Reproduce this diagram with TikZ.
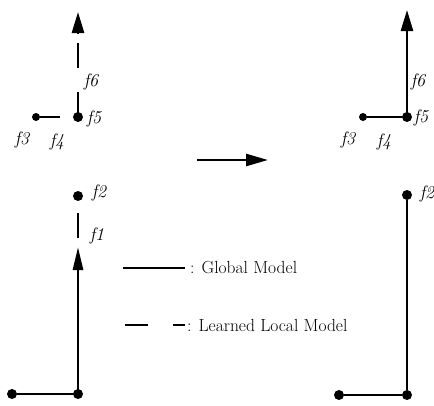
\documentclass[tikz,border=0pt]{standalone}
\usetikzlibrary{arrows.meta}
\begin{document}
\begin{tikzpicture}[x=1pt,y=-1pt,
 dot/.style={circle,fill=black,inner sep=0pt,minimum size=10pt},
 sdot/.style={circle,fill=black,inner sep=0pt,minimum size=8pt},
 seg/.style={line width=2.6pt},
 leg/.style={line width=2.2pt},
 lbl/.style={font=\fontsize{18}{20}\selectfont\itshape,inner sep=0pt},
 ltxt/.style={font=\fontsize{17.5}{20}\selectfont,inner sep=0pt,anchor=west},
 head/.style={-{Triangle[length=21pt,width=12pt]}}
]
\useasboundingbox (0,0) rectangle (434,405);
% ---------- left figure ----------
\node[dot] (L5) at (78,117) {};
\node[sdot] (L3) at (36,117) {};
\coordinate (L4e) at (60,117);
\draw[seg] (L3) -- (L4e);
\coordinate (L6a) at (78,92);
\coordinate (L6b) at (78,68);
\coordinate (L6c) at (78,43);
\coordinate (L6d) at (78,34);
\coordinate (L6t) at (78,12);
\draw[seg] (L5.center) -- (L6a);
\draw[seg] (L6b) -- (L6c);
\draw[seg,head] (L6d) -- (L6t);
\node[dot] (L2) at (78,196) {};
\coordinate (L1a) at (78,213);
\coordinate (L1b) at (78,238);
\draw[seg] (L1a) -- (L1b);
\node[dot] (LC) at (78,394) {};
\node[dot] (LL) at (12,394) {};
\coordinate (L1t) at (78,247);
\draw[seg] (LL) -- (LC);
\draw[seg,-{Triangle[length=23pt,width=10pt]}] (LC.center) -- (L1t);
\node[lbl] at (91,82) {f6};
\node[lbl] at (94,119) {f5};
\node[lbl] at (22,140) {f3};
\node[lbl] at (57,142) {f4};
\node[lbl] at (99,193) {f2};
\node[lbl] at (97,236) {f1};
% ---------- right figure ----------
\node[dot] (R5) at (407,117) {};
\node[sdot] (R3) at (363,117) {};
\draw[seg] (R3) -- (R5);
\coordinate (R6t) at (407,10);
\draw[seg,head] (R5.center) -- (R6t);
\node[dot] (R2) at (407,195) {};
\node[dot] (RC) at (407,395) {};
\node[dot] (RL) at (339,395) {};
\draw[seg] (R2) -- (RC);
\draw[seg] (RL) -- (RC);
\node[lbl] at (418,82) {f6};
\node[lbl] at (421,118) {f5};
\node[lbl] at (348,140) {f3};
\node[lbl] at (384,142) {f4};
\node[lbl] at (427,194) {f2};
% ---------- middle arrow ----------
\coordinate (Ma) at (197,160);
\coordinate (Mb) at (268,160);
\draw[seg,-{Triangle[length=22pt,width=12pt]}] (Ma) -- (Mb);
% ---------- legend ----------
\coordinate (G1) at (123,268);
\coordinate (G2) at (185,268);
\draw[leg] (G1) -- (G2);
\node[ltxt] (GT) at (190,268) {: Global Model};
\coordinate (D1) at (125,325);
\coordinate (D2) at (148,325);
\coordinate (D3) at (173,325);
\coordinate (D4) at (185,325);
\draw[leg] (D1) -- (D2);
\draw[leg] (D3) -- (D4);
\node[ltxt] (DT) at (187,325) {: Learned Local Model};
\end{tikzpicture}
\end{document}
